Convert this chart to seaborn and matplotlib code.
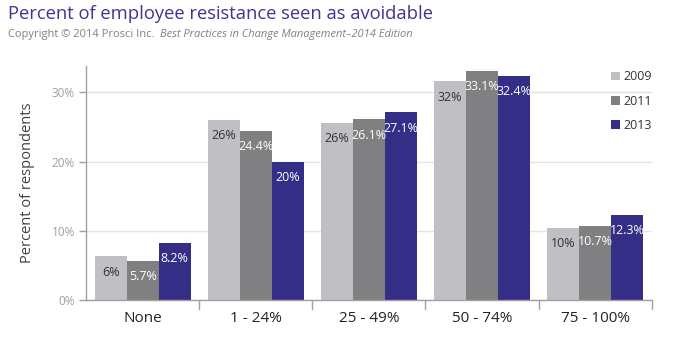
import matplotlib
matplotlib.use("Agg")
import matplotlib.pyplot as plt
import seaborn as sns
import pandas as pd
import numpy as np

categories = ["None", "1 - 24%", "25 - 49%", "50 - 74%", "75 - 100%"]
years = ["2009", "2011", "2013"]
v2009 = [6.3, 26.0, 25.6, 31.6, 10.4]
v2011 = [5.7, 24.4, 26.1, 33.1, 10.7]
v2013 = [8.2, 20.0, 27.1, 32.4, 12.3]
labels2009 = ["6%", "26%", "26%", "32%", "10%"]
labels2011 = ["5.7%", "24.4%", "26.1%", "33.1%", "10.7%"]
labels2013 = ["8.2%", "20%", "27.1%", "32.4%", "12.3%"]
colors = ["#c0c0c4", "#808083", "#352e87"]

rows = []
for y, vals in zip(years, [v2009, v2011, v2013]):
    for c, v in zip(categories, vals):
        rows.append({"cat": c, "year": y, "val": v})
df = pd.DataFrame(rows)

sns.set_theme(style="white")
plt.rcParams["font.family"] = ["Open Sans", "DejaVu Sans"]

fig = plt.figure(figsize=(7.0, 3.48), dpi=100)
ax = fig.add_axes([0.123, 0.138, 0.808, 0.672])
sns.barplot(data=df, x="cat", y="val", hue="year", order=categories,
            hue_order=years, palette=colors, width=0.85, ax=ax,
            saturation=1, errorbar=None, linewidth=0)

ax.set_ylim(0, 33.8)
ax.set_xlim(-0.5, 4.5)
ax.set_yticks([0, 10, 20, 30])
ax.set_yticklabels(["0%", "10%", "20%", "30%"], color="#a0a0a0", fontsize=8.5)
ax.yaxis.grid(True, color="#e4e4e4", linewidth=1)
ax.set_axisbelow(True)
ax.tick_params(axis="y", length=5, color="#a0a0a0", width=1, pad=3, left=True)
ax.set_xlabel("")
ax.set_ylabel("Percent of respondents", fontsize=10.5, color="#404040", labelpad=12)
ax.set_xticks(range(len(categories)))
ax.set_xticklabels(categories, fontsize=11, color="#222222")
ax.tick_params(axis="x", length=0, pad=8)
for xb in np.arange(0.5, 5.0, 1.0):
    ax.plot([xb, xb], [0, -1.3], color="#a0a0a0", lw=1, clip_on=False)
for s in ["top", "right"]:
    ax.spines[s].set_visible(False)
for s in ["left", "bottom"]:
    ax.spines[s].set_color("#a0a0a0")
    ax.spines[s].set_linewidth(1)

txtcolors = ["#333333", "white", "white"]
for cont, labs, tc in zip(ax.containers, [labels2009, labels2011, labels2013], txtcolors):
    ax.bar_label(cont, labels=labs, label_type="edge", padding=-16,
                 color=tc, fontsize=9)

leg = ax.legend(loc="upper right", bbox_to_anchor=(1.02, 1.03), frameon=False,
                fontsize=9, handlelength=0.7, handleheight=0.7, handletextpad=0.3,
                labelspacing=0.9)
for t in leg.get_texts():
    t.set_color("#333333")

fig.text(0.012, 0.945, "Percent of employee resistance seen as avoidable",
         fontsize=13.2, color="#3d3592")
t1 = fig.text(0.012, 0.895, "Copyright © 2014 Prosci Inc. ", fontsize=8, color="#808080")
fig.canvas.draw()
bb = t1.get_window_extent(renderer=fig.canvas.get_renderer())
x2 = bb.x1 / fig.bbox.width + 0.003
fig.text(x2, 0.895, "Best Practices in Change Management\u20132014 Edition",
         fontsize=8, color="#808080", style="italic")

fig.savefig("out.png", dpi=100)
